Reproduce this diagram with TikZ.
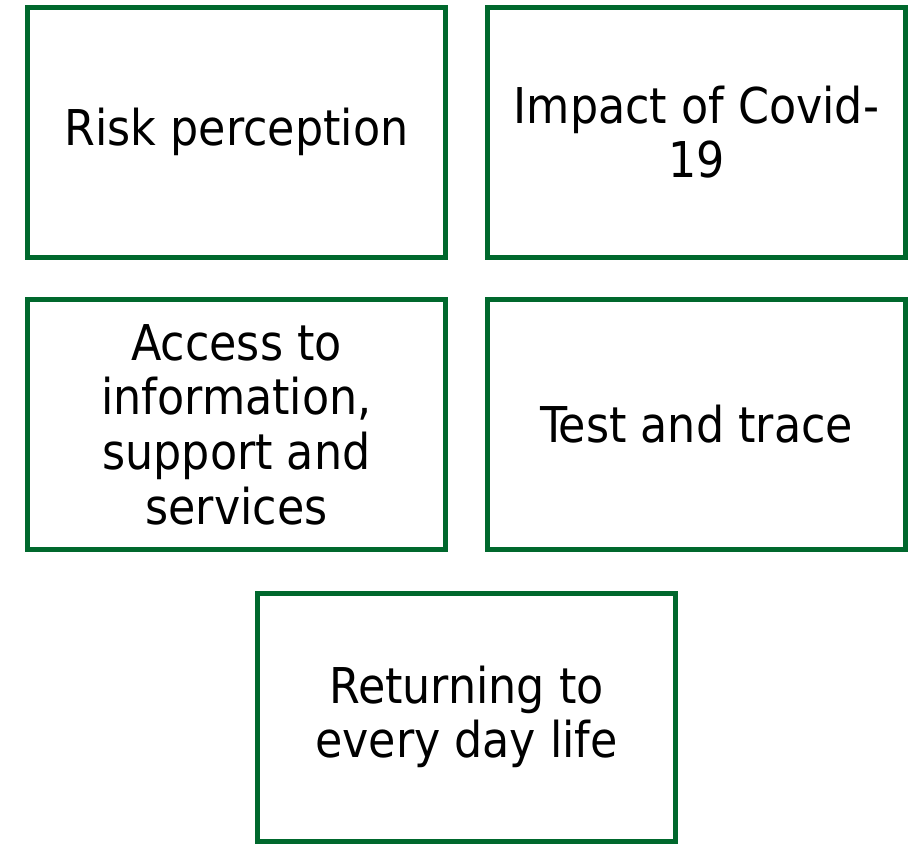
\documentclass[tikz,border=0pt]{standalone}
\usepackage{fontspec}
\setmainfont{DejaVu Sans Condensed}
\definecolor{boxgreen}{RGB}{0,104,45}

\begin{document}
\begin{tikzpicture}[x=0.75pt,y=-0.75pt,
    topicbox/.style={draw=boxgreen, line width=3.75pt, minimum width=313.5pt,
        minimum height=187.5pt, align=center, inner sep=0pt,
        font=\fontsize{37}{41}\selectfont}]
    % page frame
    \useasboundingbox (0,0) rectangle (913,843);

    % top row
    \node[topicbox] (risk) at (236.5,132) {Risk perception};
    \node[topicbox] (impact) at (696.5,132) {Impact of Covid-\\19};

    % middle row
    \node[topicbox] (access) at (236.5,424.5) {Access to\\information,\\support and\\services};
    \node[topicbox] (test) at (696.5,424.5) {Test and trace};

    % bottom box
    \node[topicbox, minimum height=186pt] (return) at (466.5,717) {Returning to\\every day life};
\end{tikzpicture}
\end{document}
